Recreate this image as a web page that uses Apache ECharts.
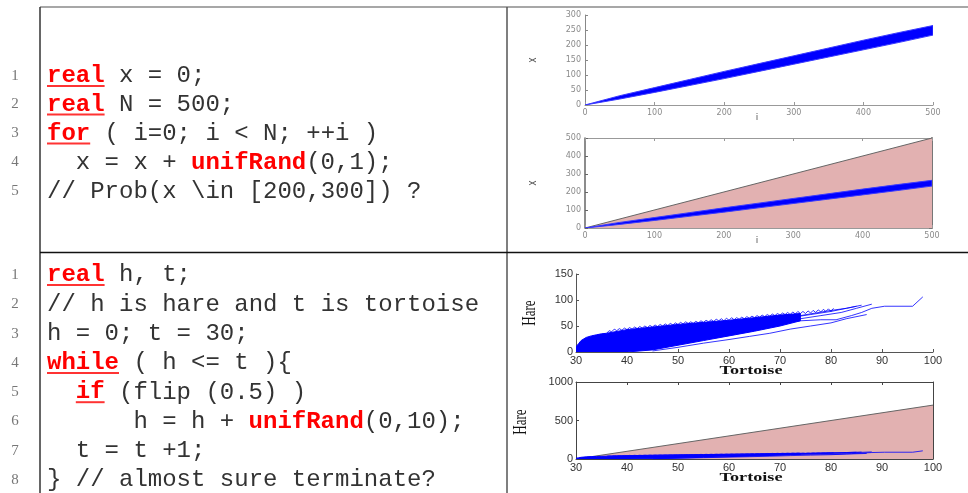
<!DOCTYPE html>
<html>
<head>
<meta charset="utf-8">
<script src="https://cdn.jsdelivr.net/npm/echarts@6/dist/echarts.min.js"></script>
<style>
  html, body { margin: 0; padding: 0; background: #fff; }
  #main { width: 968px; height: 493px; }
</style>
</head>
<body>
<div id="main"></div>
<script>
// random walk x = x + unifRand(0,1): envelope of the bundle of runs
var walkI = [0, 50, 100, 150, 200, 250, 300, 350, 400, 450, 500];
var walkLow = [0, 20, 42, 65, 88, 112, 136, 160, 184, 208, 233];
var walkHigh = [0, 31, 58, 85, 112, 138, 164, 190, 216, 241, 265];
// upper bound x <= i (pink region)
var capI = [0, 500];
var capX = [0, 500];

// hare vs tortoise: dense part of the bundle
var denseT = [30, 30.5, 31, 32, 33, 34, 35, 36, 40, 45, 50, 55, 60, 65, 70, 74];
var denseTop = [10, 16, 22, 28, 31, 33, 35, 36, 43, 48, 53, 57, 61, 66, 71, 74];
var denseLow = [0, 0, 0, 0, 0, 0, 0, 0, 0, 4, 13, 22, 31, 40, 50, 60];
// saw teeth along the top (last step of each run)
var sawT = [36, 36.5, 37, 37.5, 38, 38.5, 39, 39.5, 40, 40.5, 41, 41.5, 42, 42.5, 43, 43.5,
  44, 44.5, 45, 45.5, 46, 46.5, 47, 47.5, 48, 48.5, 49, 49.5, 50, 50.5, 51, 51.5, 52, 52.5,
  53, 53.5, 54, 54.5, 55, 55.5, 56, 56.5, 57, 57.5, 58, 58.5, 59, 59.5, 60, 60.5, 61, 61.5,
  62, 62.5, 63, 63.5, 64, 64.5, 65, 65.5, 66, 66.5, 67, 67.5, 68, 68.5, 69, 69.5, 70, 70.5,
  71, 71.5, 72, 72.5, 73, 73.5, 74, 74.5, 75, 75.5, 76, 76.5, 77, 77.5, 78, 78.5, 79, 79.5, 80, 80.5];
var sawH = [36, 41, 39, 44, 41, 45, 42, 46, 43, 47, 44, 48, 45, 49, 46, 50,
  47, 51, 48, 52, 49, 53, 50, 54, 51, 55, 52, 56, 53, 57, 54, 58, 55, 58,
  55, 59, 56, 60, 57, 61, 58, 62, 59, 63, 60, 64, 60, 65, 61, 66, 62, 66,
  63, 67, 64, 68, 65, 69, 66, 70, 67, 71, 68, 72, 69, 73, 70, 74, 71, 75,
  72, 76, 72, 77, 73, 78, 74, 78, 74, 79, 75, 80, 76, 81, 77, 82, 78, 83, 78, 84];
// a few single runs in the sparse right part
var runA_t = [70, 74, 78, 81, 84, 86, 88, 90.5, 96, 98];
var runA_h = [56, 60, 62, 62, 70, 76, 84, 88, 88, 106];
var runB_t = [66, 70, 74, 78, 82, 85, 88];
var runB_h = [52, 58, 64, 70, 76, 84, 92];
var runC_t = [72, 76, 80, 83, 86];
var runC_h = [66, 72, 78, 84, 90];
var runD_t = [45, 50, 55, 60, 64, 68, 72, 76, 80, 83, 87];
var runD_h = [2, 9, 17, 24, 30, 36, 44, 50, 56, 64, 72];
var runE_t = [74, 77, 80, 83, 85];
var runE_h = [70, 75, 80, 84, 88];
// upper bound h <= 10 (t - 30)
var capT = [30, 100];
var capH = [0, 700];

// code listing
var codeTop = [
  [['kw', 'real'], ['tx', ' x = 0;']],
  [['kw', 'real'], ['tx', ' N = 500;']],
  [['kw', 'for'], ['tx', ' ( i=0; i < N; ++i )']],
  [['tx', '  x = x + '], ['fn', 'unifRand'], ['tx', '(0,1);']],
  [['tx', '// Prob(x \\in [200,300]) ?']]
];
var codeTopY = [76, 104.5, 133.5, 162.5, 191.5];
var codeBottom = [
  [['kw', 'real'], ['tx', ' h, t;']],
  [['tx', '// h is hare and t is tortoise']],
  [['tx', 'h = 0; t = 30;']],
  [['kw', 'while'], ['tx', ' ( h <= t ){']],
  [['tx', '  '], ['kw', 'if'], ['tx', ' (flip (0.5) )']],
  [['tx', '      h = h + '], ['fn', 'unifRand'], ['tx', '(0,10);']],
  [['tx', '  t = t +1;']],
  [['tx', '} // almost sure terminate?']]
];
var codeBottomY = [275, 304.3, 333.6, 362.9, 392.2, 421.5, 450.8, 480.1];

var CODE_X = 47;
var CODE_SIZE = 24;
var CHAR_W = CODE_SIZE * 0.6;

function pairs(xs, ys) {
  return xs.map(function (x, k) { return [x, ys[k]]; });
}

var graphics = [];

// table rules
function rule(x1, y1, x2, y2, color) {
  graphics.push({ type: 'line', shape: { x1: x1, y1: y1, x2: x2, y2: y2 },
    style: { stroke: color, lineWidth: 1.5 }, silent: true });
}
rule(40, 7, 968, 7, '#8a8a8a');
rule(40, 7, 40, 493, '#333');
rule(507, 7, 507, 493, '#555');
rule(40, 252.5, 968, 252.5, '#111');

function addCode(lines, ys) {
  for (var i = 0; i < lines.length; ++i) {
    var y = ys[i];
    graphics.push({ type: 'text', x: 15, y: y, silent: true,
      style: { text: String(i + 1), font: '15px "Liberation Serif"', fill: '#777',
        align: 'center', verticalAlign: 'middle' } });
    var col = 0;
    for (var s = 0; s < lines[i].length; ++s) {
      var kind = lines[i][s][0];
      var txt = lines[i][s][1];
      var x = CODE_X + col * CHAR_W;
      var bold = kind !== 'tx';
      graphics.push({ type: 'text', x: x, y: y, silent: true,
        style: { text: txt,
          font: (bold ? 'bold ' : '') + CODE_SIZE + 'px "Liberation Mono"',
          fill: bold ? '#f00' : '#333', align: 'left', verticalAlign: 'middle' } });
      if (kind === 'kw') {
        graphics.push({ type: 'line', silent: true,
          shape: { x1: x, y1: y + 10, x2: x + txt.length * CHAR_W, y2: y + 10 },
          style: { stroke: '#f33', lineWidth: 2 } });
      }
      col += txt.length;
    }
  }
}
addCode(codeTop, codeTopY);
addCode(codeBottom, codeBottomY);

// axis titles
function title(text, x, y, font, color, rotate, sx, sy) {
  graphics.push({ type: 'text', x: x, y: y, rotation: rotate || 0,
    scaleX: sx || 1, scaleY: sy || 1, silent: true,
    style: { text: text, font: font, fill: color, align: 'center', verticalAlign: 'middle' } });
}
title('x', 533, 60, '9px "DejaVu Sans"', '#555', Math.PI / 2, 1, 1.4);
title('i', 757, 118, '9px "DejaVu Sans"', '#555');
title('x', 533, 183, '9px "DejaVu Sans"', '#555', Math.PI / 2, 1, 1.4);
title('i', 757, 241, '9px "DejaVu Sans"', '#555');
title('Hare', 530, 313, '13px "Liberation Serif"', '#111', Math.PI / 2, 1, 1.5);
title('Tortoise', 751, 371, 'bold 13px "Liberation Serif"', '#111', 0, 1.4, 1);
title('Hare', 521, 422, '13px "Liberation Serif"', '#111', Math.PI / 2, 1, 1.5);
title('Tortoise', 751, 478, 'bold 13px "Liberation Serif"', '#111', 0, 1.4, 1);

var smallLbl = { fontSize: 8, color: '#8a8a8a', fontFamily: 'DejaVu Sans', margin: 4 };
var bigLbl = { fontSize: 11, color: '#333', fontFamily: 'Liberation Sans', margin: 3,
  formatter: function (v) { return String(v); } };

function axis(grid, pos, min, max, step, lbl, lineColor, lineWidth) {
  return {
    type: 'value', gridIndex: grid, position: pos, min: min, max: max, interval: step,
    axisLine: { show: true, onZero: false, lineStyle: { color: lineColor, width: lineWidth || 1 } },
    axisTick: { show: true, inside: true, length: 3, lineStyle: { color: lineColor } },
    axisLabel: lbl ? lbl : { show: false },
    splitLine: { show: false }
  };
}

var blue = '#0000ff';
var lineBase = { type: 'line', symbol: 'none', silent: true, animation: false, z: 4 };

// filled band between two envelopes, placed through the axis scales
function bandSeries(ax, xs, lo, hi, edge) {
  return {
    type: 'custom', xAxisIndex: ax[0], yAxisIndex: ax[1], silent: true, clip: true, z: 3,
    data: [[xs[0], lo[0]]],
    renderItem: function (params, api) {
      var pts = [];
      for (var k = 0; k < xs.length; ++k) pts.push(api.coord([xs[k], hi[k]]));
      for (var j = xs.length - 1; j >= 0; --j) pts.push(api.coord([xs[j], lo[j]]));
      return { type: 'polygon', shape: { points: pts },
        style: { fill: blue, stroke: edge, lineWidth: 1 } };
    }
  };
}

function lineSeries(ax, xs, ys, color, width) {
  return Object.assign({}, lineBase, { xAxisIndex: ax[0], yAxisIndex: ax[1],
    data: pairs(xs, ys), lineStyle: { color: color, width: width } });
}

function hareSeries(ax) {
  var out = [
    bandSeries(ax, denseT, denseLow, denseTop, blue),
    lineSeries(ax, sawT, sawH, blue, 0.8)
  ];
  var runs = [[runA_t, runA_h], [runB_t, runB_h], [runC_t, runC_h], [runD_t, runD_h], [runE_t, runE_h]];
  runs.forEach(function (r) { out.push(lineSeries(ax, r[0], r[1], blue, 0.8)); });
  return out;
}

function capSeries(ax, xs, ys) {
  return Object.assign({}, lineBase, { xAxisIndex: ax[0], yAxisIndex: ax[1], z: 1,
    data: pairs(xs, ys), lineStyle: { color: '#666', width: 1 },
    areaStyle: { color: '#e2b1b1', opacity: 1 } });
}

var option = {
  animation: false,
  backgroundColor: '#fff',
  grid: [
    { left: 585, top: 15, width: 348, height: 90 },
    { left: 585, top: 138, width: 347, height: 90 },
    { left: 576, top: 274, width: 357, height: 78 },
    { left: 576, top: 382, width: 357, height: 77 }
  ],
  xAxis: [
    axis(0, 'bottom', 0, 500, 100, smallLbl, '#999'),
    axis(1, 'bottom', 0, 500, 100, smallLbl, '#999'),
    axis(1, 'top', 0, 500, 100, null, '#999'),
    axis(2, 'bottom', 30, 100, 10, bigLbl, '#555'),
    axis(3, 'bottom', 30, 100, 10, bigLbl, '#444'),
    axis(3, 'top', 30, 100, 10, null, '#444')
  ],
  yAxis: [
    axis(0, 'left', 0, 300, 50, smallLbl, '#888'),
    axis(1, 'left', 0, 500, 100, smallLbl, '#666', 1.5),
    axis(1, 'right', 0, 500, 100, null, '#777', 2),
    axis(2, 'left', 0, 150, 50, bigLbl, '#555'),
    axis(3, 'left', 0, 1000, 500, bigLbl, '#444'),
    axis(3, 'right', 0, 1000, 500, null, '#444')
  ],
  series: [].concat(
    [bandSeries([0, 0], walkI, walkLow, walkHigh, '#3a3aff')],
    [capSeries([1, 1], capI, capX)],
    [bandSeries([1, 1], walkI, walkLow, walkHigh, '#3a3aff')],
    hareSeries([3, 3]),
    [capSeries([4, 4], capT, capH)],
    hareSeries([4, 4])
  ),
  graphic: graphics
};

var chart = echarts.init(document.getElementById('main'), null, { renderer: 'canvas' });
chart.setOption(option);
</script>
</body>
</html>
